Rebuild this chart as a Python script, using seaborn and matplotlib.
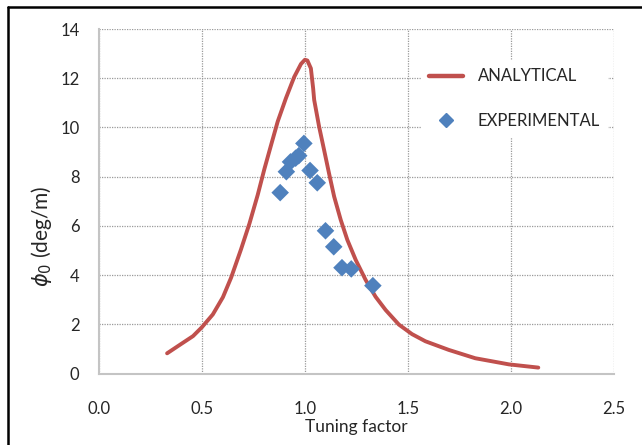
import matplotlib
matplotlib.use("Agg")
import matplotlib.pyplot as plt
from matplotlib.lines import Line2D
import seaborn as sns
import pandas as pd

# Analytical response curve (tuning factor vs. phi_0)
analytical_x = [0.331, 0.392, 0.457, 0.500, 0.553, 0.602, 0.642, 0.690, 0.731, 0.771,
                0.803, 0.836, 0.868, 0.908, 0.948, 0.981, 1.000, 1.012, 1.029, 1.040,
                1.045, 1.069, 1.093, 1.117, 1.142, 1.174, 1.206, 1.247, 1.295, 1.343,
                1.392, 1.456, 1.520, 1.585, 1.698, 1.827, 1.991, 2.133]
analytical_y = [0.82, 1.16, 1.52, 1.88, 2.40, 3.10, 3.90, 5.05, 6.10, 7.26,
                8.30, 9.29, 10.24, 11.19, 12.05, 12.58, 12.75, 12.72, 12.40, 11.59,
                11.12, 10.03, 9.09, 8.14, 7.19, 6.24, 5.43, 4.61, 3.80, 3.12,
                2.58, 1.99, 1.60, 1.31, 0.96, 0.62, 0.37, 0.24]

# Measured points
experimental_x = [0.88, 0.91, 0.93, 0.955, 0.97, 0.995, 1.025, 1.06, 1.10, 1.14, 1.18, 1.225, 1.33]
experimental_y = [7.35, 8.20, 8.60, 8.75, 8.85, 9.35, 8.25, 7.75, 5.80, 5.15, 4.30, 4.25, 3.57]

x_ticks = [0.0, 0.5, 1.0, 1.5, 2.0, 2.5]
y_ticks = [0, 2, 4, 6, 8, 10, 12, 14]

sns.set_theme(style="white")
plt.rcParams["font.family"] = ["Lato", "DejaVu Sans"]

RED = "#C0504D"
BLUE = "#4F81BD"
TEXT = "#262626"

df_a = pd.DataFrame({"x": analytical_x, "y": analytical_y})
df_e = pd.DataFrame({"x": experimental_x, "y": experimental_y})

fig = plt.figure(figsize=(6.42, 4.45), dpi=100)
ax = fig.add_axes([98.9 / 642, 71.5 / 445, 515 / 642, 344.5 / 445])

sns.lineplot(data=df_a, x="x", y="y", ax=ax, sort=False, estimator=None,
             color=RED, linewidth=2.8, solid_joinstyle="round",
             solid_capstyle="round", zorder=3)
sns.scatterplot(data=df_e, x="x", y="y", ax=ax, marker="D", s=80,
                color=BLUE, edgecolor="none", zorder=4)

ax.set_xlim(0, 2.5)
ax.set_ylim(0, 14)
ax.set_xticks(x_ticks)
ax.set_xticklabels([f"{v:.1f}" for v in x_ticks])
ax.set_yticks(y_ticks)
ax.set_yticklabels([str(v) for v in y_ticks])

ax.grid(True, color="#9a9a9a", linestyle=(0, (1, 1)), linewidth=0.9)
for side in ("top", "right"):
    ax.spines[side].set_visible(False)
for side in ("left", "bottom"):
    ax.spines[side].set_color("#c4c4c4")
    ax.spines[side].set_linewidth(1.5)
ax.tick_params(axis="both", length=0, labelsize=12, colors=TEXT)
ax.tick_params(axis="x", pad=20)
ax.tick_params(axis="y", pad=14)

ax.set_xlabel("Tuning factor", fontsize=12.5, color=TEXT, labelpad=1)
ax.set_ylabel("")
fig.text(42 / 642, 1 - 236 / 445, r"$\phi_0$ (deg/m)", rotation=90,
         ha="center", va="center", fontsize=15, color=TEXT)

handles = [
    Line2D([], [], color=RED, linewidth=3.2),
    Line2D([], [], color=BLUE, marker="D", linestyle="none", markersize=7),
]
leg = ax.legend(handles, ["ANALYTICAL", "EXPERIMENTAL"], loc="upper left",
                bbox_to_anchor=(421 / 642, 1 - 60 / 445),
                bbox_transform=fig.transFigure, borderaxespad=0,
                frameon=True, fontsize=12, handlelength=2.0,
                handletextpad=0.9, labelspacing=1.7, borderpad=0.5)
leg.get_frame().set_facecolor("white")
leg.get_frame().set_edgecolor("none")
leg.get_frame().set_alpha(1)
for t in leg.get_texts():
    t.set_color(TEXT)

# Outer frame lines (left and top edges)
fig.add_artist(Line2D([8 / 642, 8 / 642], [0, 1 - 7 / 445], color="black",
                      linewidth=1.8, transform=fig.transFigure))
fig.add_artist(Line2D([8 / 642, 1], [1 - 7 / 445, 1 - 7 / 445], color="black",
                      linewidth=1.8, transform=fig.transFigure))

fig.savefig("out.png", dpi=100, facecolor="white")
